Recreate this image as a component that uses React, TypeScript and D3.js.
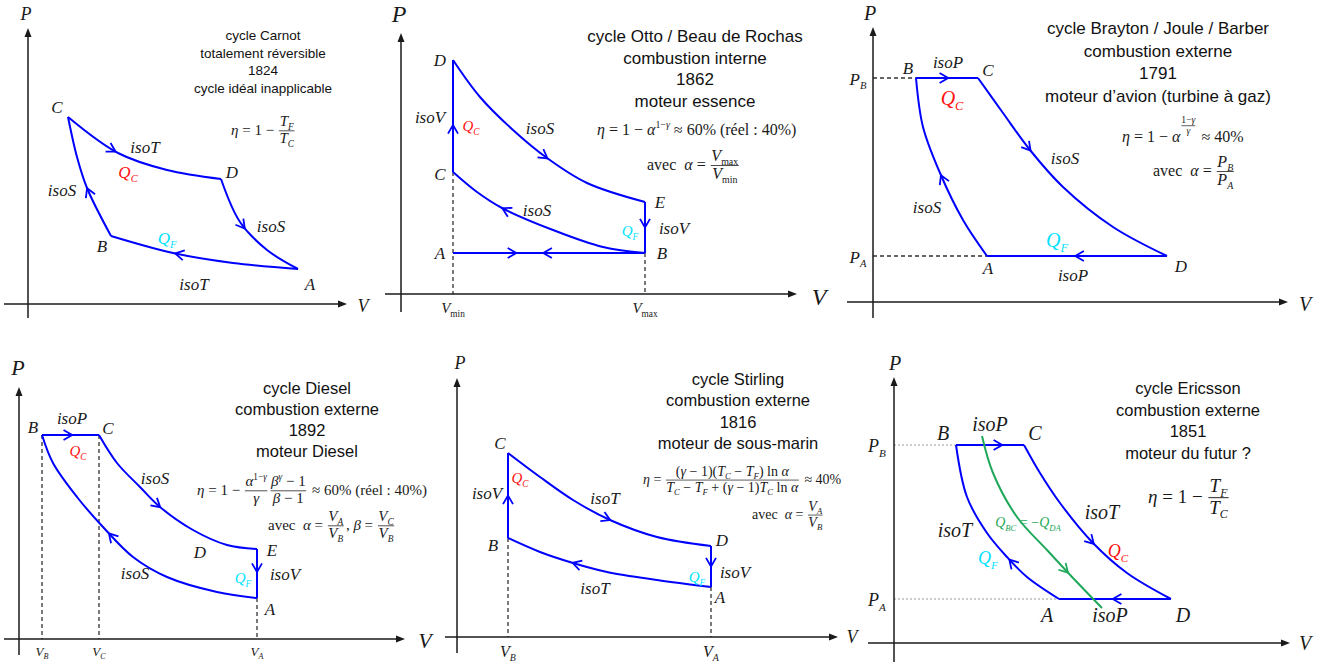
import React, { useEffect, useRef } from "react";
import * as d3 from "d3";

type Pt = [number, number];

const SANS = "'Liberation Sans', Arial, sans-serif";
const SERIF = "'Liberation Serif', 'Times New Roman', serif";
const BLUE = "#0000ff";
const RED = "#ff1010";
const CYAN = "#00e2ff";
const GREEN = "#1fa85a";
const INK = "#1a1a1a";

// ---- state points (V, P), 1 unit = 10px ----

// Carnot
const carnotCD: Pt[] = [[4.0, 18.7], [9.0, 15.1], [13.9, 13.4], [19.3, 12.5]];
const carnotDA: Pt[] = [[19.3, 12.5], [21.2, 8.2], [23.9, 5.4], [27.0, 3.5]];
const carnotAB: Pt[] = [[27.0, 3.5], [20.5, 4.1], [14.5, 5.1], [8.3, 6.8]];
const carnotBC: Pt[] = [[8.3, 6.8], [5.9, 11.6], [4.9, 14.7], [4.0, 18.7]];

// Otto / Beau de Rochas
const ottoAB: Pt[] = [[5.2, 4.1], [24.4, 4.1]];
const ottoBA: Pt[] = [[24.4, 4.1], [5.2, 4.1]];
const ottoCD: Pt[] = [[5.2, 12.2], [5.2, 23.4]];
const ottoDE: Pt[] = [[5.2, 23.4], [7.9, 19.7], [11.2, 16.4], [14.6, 13.6], [18.6, 11.1], [24.4, 9.2]];
const ottoEB: Pt[] = [[24.4, 9.2], [24.4, 4.1]];
const ottoBC: Pt[] = [[24.4, 4.1], [20.2, 4.7], [15.2, 6.4], [10.1, 8.6], [7.6, 10.2], [5.2, 12.2]];
const ottoGuides: Pt[][] = [[[5.2, 12.2], [5.2, 0]], [[24.4, 4.1], [24.4, 0]]];

// Brayton
const braytonBC: Pt[] = [[4.3, 22.4], [10.5, 22.4]];
const braytonCD: Pt[] = [[10.5, 22.4], [13.0, 18.9], [15.7, 15.2], [19.0, 11.5], [24.0, 7.5], [29.4, 4.6]];
const braytonDA: Pt[] = [[29.4, 4.6], [11.4, 4.6]];
const braytonAB: Pt[] = [[11.4, 4.6], [9.0, 8.2], [6.7, 12.9], [5.0, 17.5], [4.3, 22.4]];
const braytonGuides: Pt[][] = [[[0, 22.4], [4.3, 22.4]], [[0, 4.6], [11.4, 4.6]]];

// Diesel
const dieselBC: Pt[] = [[2.3, 20.4], [8.0, 20.4]];
const dieselCE: Pt[] = [[8.0, 20.4], [9.8, 17.6], [12.1, 15.2], [14.1, 13.2], [17.4, 10.9], [20.8, 9.4], [23.8, 9.0]];
const dieselEA: Pt[] = [[23.8, 9.0], [23.8, 4.1]];
const dieselAB: Pt[] = [[23.8, 4.1], [19.8, 4.7], [14.8, 6.2], [11.4, 8.2], [8.4, 11.2], [5.8, 14.2], [3.4, 17.6], [2.3, 20.4]];
const dieselGuides: Pt[][] = [[[2.3, 20.4], [2.3, 0]], [[8.0, 20.4], [8.0, 0]], [[23.8, 4.1], [23.8, 0]]];

// Stirling
const stirlingBC: Pt[] = [[5.1, 9.9], [5.1, 18.4]];
const stirlingCD: Pt[] = [[5.1, 18.4], [8.3, 16.0], [11.6, 13.7], [15.3, 11.7], [20.0, 10.0], [25.4, 9.1]];
const stirlingDA: Pt[] = [[25.4, 9.1], [25.4, 5.0]];
const stirlingAB: Pt[] = [[25.4, 5.0], [20.0, 5.7], [15.0, 6.5], [11.6, 7.4], [8.3, 8.5], [5.1, 9.9]];
const stirlingGuides: Pt[][] = [[[5.1, 9.9], [5.1, 0]], [[25.4, 5.0], [25.4, 0]]];

// Ericsson
const ericssonBC: Pt[] = [[6.2, 19.8], [13.0, 19.8]];
const ericssonCD: Pt[] = [[13.0, 19.8], [14.6, 17.0], [16.6, 14.0], [19.9, 10.0], [23.3, 7.0], [27.7, 4.4]];
const ericssonDA: Pt[] = [[27.7, 4.4], [16.5, 4.4]];
const ericssonAB: Pt[] = [[16.5, 4.4], [13.3, 6.6], [11.3, 8.6], [9.3, 11.0], [7.3, 14.6], [6.2, 19.8]];
const ericssonRegen: Pt[] = [[8.8, 20.7], [9.9, 17.0], [12.3, 12.6], [15.3, 9.3], [17.9, 6.5], [20.8, 3.5]];
const ericssonGuides: Pt[][] = [[[0, 19.8], [6.2, 19.8]], [[0, 4.4], [16.5, 4.4]]];

// ---- texts ----
const carnotTitle = ["cycle Carnot", "totalement réversible", "1824", "cycle idéal inapplicable"];
const ottoTitle = ["cycle Otto / Beau de Rochas", "combustion interne", "1862", "moteur essence"];
const braytonTitle = ["cycle Brayton / Joule / Barber", "combustion externe", "1791", "moteur d’avion (turbine à gaz)"];
const dieselTitle = ["cycle Diesel", "combustion externe", "1892", "moteur Diesel"];
const stirlingTitle = ["cycle Stirling", "combustion externe", "1816", "moteur de sous-marin"];
const ericssonTitle = ["cycle Ericsson", "combustion externe", "1851", "moteur du futur ?"];

type Item = string | { n: Item[]; d: Item[]; s?: number; dy?: number };
interface Curve { pts: Pt[]; arrows: number[]; color?: string }
interface Label { t: string; v: number; p: number; size: number; color?: string }
interface Formula { items: Item[]; v: number; p: number; size: number }
interface Panel {
  origin: Pt;
  vExt: Pt;
  pExt: Pt;
  curves: Curve[];
  guides: Pt[][];
  guideStyle: "dash" | "dot";
  labels: Label[];
  title: string[];
  titleAt: Pt;
  titleSize: number;
  titleStep: number;
  formulas: Formula[];
}

const panels: Panel[] = [
  {
    origin: [28, 304], vExt: [-2.4, 31.9], pExt: [-1.4, 27.6],
    curves: [
      { pts: carnotCD, arrows: [0.35] },
      { pts: carnotDA, arrows: [0.45] },
      { pts: carnotAB, arrows: [0.65] },
      { pts: carnotBC, arrows: [0.42] },
    ],
    guides: [], guideStyle: "dash",
    labels: [
      { t: "C", v: 2.9, p: 19.1, size: 17 },
      { t: "isoT", v: 11.7, p: 15.1, size: 17 },
      { t: "Q_{C}", v: 10.0, p: 12.6, size: 17, color: RED },
      { t: "D", v: 20.4, p: 12.6, size: 17 },
      { t: "isoS", v: 3.4, p: 10.8, size: 17 },
      { t: "isoS", v: 24.3, p: 7.2, size: 17 },
      { t: "Q_{F}", v: 13.9, p: 6.0, size: 17, color: CYAN },
      { t: "B", v: 7.4, p: 5.2, size: 17 },
      { t: "isoT", v: 16.6, p: 1.4, size: 17 },
      { t: "A", v: 28.2, p: 1.4, size: 17 },
      { t: "P", v: -0.2, p: 28.4, size: 18 },
      { t: "V", v: 33.5, p: -0.8, size: 18 },
    ],
    title: carnotTitle, titleAt: [23.5, 26.4], titleSize: 13.5, titleStep: 1.75,
    formulas: [{ items: ["η = 1 − ", { n: ["T_{F}"], d: ["T_{C}"] }], v: 20.3, p: 16.9, size: 15 }],
  },
  {
    origin: [401, 294], vExt: [-1.6, 39.6], pExt: [-1.8, 26.1],
    curves: [
      { pts: ottoAB, arrows: [0.33] },
      { pts: ottoBA, arrows: [0.53] },
      { pts: ottoCD, arrows: [0.42] },
      { pts: ottoDE, arrows: [0.56] },
      { pts: ottoEB, arrows: [0.5] },
      { pts: ottoBC, arrows: [0.71] },
    ],
    guides: ottoGuides, guideStyle: "dash",
    labels: [
      { t: "D", v: 3.9, p: 22.8, size: 17 },
      { t: "C", v: 3.9, p: 11.4, size: 17 },
      { t: "A", v: 3.9, p: 3.5, size: 17 },
      { t: "E", v: 25.9, p: 8.6, size: 17 },
      { t: "B", v: 26.1, p: 3.5, size: 17 },
      { t: "isoV", v: 2.9, p: 17.1, size: 17 },
      { t: "Q_{C}", v: 7.0, p: 16.3, size: 15, color: RED },
      { t: "isoS", v: 13.9, p: 16.0, size: 17 },
      { t: "isoS", v: 13.6, p: 7.8, size: 17 },
      { t: "Q_{F}", v: 22.9, p: 5.8, size: 15, color: CYAN },
      { t: "isoV", v: 27.3, p: 6.0, size: 17 },
      { t: "P", v: -0.2, p: 27.2, size: 24 },
      { t: "V", v: 41.8, p: -1.1, size: 24 },
      { t: "V_{`min`}", v: 5.2, p: -1.9, size: 15 },
      { t: "V_{`max`}", v: 24.4, p: -1.9, size: 15 },
    ],
    title: ottoTitle, titleAt: [29.4, 25.2], titleSize: 17, titleStep: 2.17,
    formulas: [
      { items: ["η = 1 − α^{1−γ} ≈ 60% (`réel` : 40%)"], v: 19.6, p: 15.9, size: 16 },
      { items: ["`avec`  α = ", { n: ["V_{`max`}"], d: ["V_{`min`}"] }], v: 24.6, p: 12.4, size: 16 },
    ],
  },
  {
    origin: [873, 302], vExt: [-2.6, 41.5], pExt: [-1.6, 27.5],
    curves: [
      { pts: braytonBC, arrows: [0.52] },
      { pts: braytonCD, arrows: [0.34] },
      { pts: braytonDA, arrows: [0.51] },
      { pts: braytonAB, arrows: [0.48] },
    ],
    guides: braytonGuides, guideStyle: "dash",
    labels: [
      { t: "B", v: 3.5, p: 22.8, size: 17 },
      { t: "isoP", v: 7.5, p: 23.4, size: 17 },
      { t: "C", v: 11.5, p: 22.6, size: 17 },
      { t: "Q_{C}", v: 7.9, p: 19.7, size: 20, color: RED },
      { t: "isoS", v: 19.2, p: 13.8, size: 17 },
      { t: "isoS", v: 5.4, p: 8.9, size: 17 },
      { t: "Q_{F}", v: 18.4, p: 5.5, size: 20, color: CYAN },
      { t: "A", v: 11.5, p: 2.8, size: 17 },
      { t: "isoP", v: 20.0, p: 2.1, size: 17 },
      { t: "D", v: 30.8, p: 3.0, size: 17 },
      { t: "P_{B}", v: -1.5, p: 21.7, size: 17 },
      { t: "P_{A}", v: -1.5, p: 3.9, size: 17 },
      { t: "P", v: -0.3, p: 28.2, size: 20 },
      { t: "V", v: 43.2, p: -0.9, size: 20 },
    ],
    title: braytonTitle, titleAt: [28.5, 26.8], titleSize: 17, titleStep: 2.27,
    formulas: [
      { items: ["η = 1 − α", { n: ["1−γ"], d: ["γ"], s: 0.6, dy: -0.85 }, " ≈ 40%"], v: 24.9, p: 16.0, size: 16 },
      { items: ["`avec`  α = ", { n: ["P_{B}"], d: ["P_{A}"] }], v: 28.0, p: 12.6, size: 16 },
    ],
  },
  {
    origin: [19, 639], vExt: [-1.5, 38.6], pExt: [-1.6, 25.2],
    curves: [
      { pts: dieselBC, arrows: [0.53] },
      { pts: dieselCE, arrows: [0.47] },
      { pts: dieselEA, arrows: [0.47] },
      { pts: dieselAB, arrows: [0.58] },
    ],
    guides: dieselGuides, guideStyle: "dash",
    labels: [
      { t: "B", v: 1.4, p: 20.6, size: 17 },
      { t: "isoP", v: 5.3, p: 21.5, size: 17 },
      { t: "C", v: 8.9, p: 20.5, size: 17 },
      { t: "Q_{C}", v: 5.9, p: 18.3, size: 15, color: RED },
      { t: "isoS", v: 13.6, p: 15.5, size: 17 },
      { t: "D", v: 18.1, p: 8.1, size: 17 },
      { t: "E", v: 25.3, p: 8.3, size: 17 },
      { t: "isoS", v: 11.6, p: 6.0, size: 17 },
      { t: "Q_{F}", v: 22.4, p: 5.6, size: 15, color: CYAN },
      { t: "isoV", v: 26.6, p: 5.9, size: 17 },
      { t: "A", v: 25.1, p: 2.4, size: 17 },
      { t: "P", v: -0.1, p: 26.4, size: 22 },
      { t: "V", v: 40.6, p: -0.9, size: 22 },
      { t: "V_{B}", v: 2.3, p: -1.7, size: 13 },
      { t: "V_{C}", v: 8.0, p: -1.7, size: 13 },
      { t: "V_{A}", v: 23.8, p: -1.7, size: 13 },
    ],
    title: dieselTitle, titleAt: [28.8, 24.5], titleSize: 16.5, titleStep: 2.1,
    formulas: [
      {
        items: ["η = 1 − ", { n: ["α^{1−γ}"], d: ["γ"] }, { n: ["β^{γ} − 1"], d: ["β − 1"] }, " ≈ 60% (`réel` : 40%)"],
        v: 17.8, p: 14.4, size: 15,
      },
      { items: ["`avec`  α = ", { n: ["V_{A}"], d: ["V_{B}"] }, ", β = ", { n: ["V_{C}"], d: ["V_{B}"] }], v: 24.9, p: 10.9, size: 15 },
    ],
  },
  {
    origin: [457, 637], vExt: [-1.2, 38.1], pExt: [-1.6, 25.9],
    curves: [
      { pts: stirlingBC, arrows: [0.5] },
      { pts: stirlingCD, arrows: [0.54] },
      { pts: stirlingDA, arrows: [0.5] },
      { pts: stirlingAB, arrows: [0.67] },
    ],
    guides: stirlingGuides, guideStyle: "dash",
    labels: [
      { t: "C", v: 4.3, p: 18.8, size: 17 },
      { t: "Q_{C}", v: 6.3, p: 15.4, size: 15, color: RED },
      { t: "isoV", v: 3.0, p: 13.8, size: 17 },
      { t: "isoT", v: 14.8, p: 13.3, size: 17 },
      { t: "B", v: 3.6, p: 8.6, size: 17 },
      { t: "D", v: 26.5, p: 9.1, size: 17 },
      { t: "Q_{F}", v: 24.0, p: 5.5, size: 15, color: CYAN },
      { t: "isoV", v: 27.8, p: 5.9, size: 17 },
      { t: "isoT", v: 13.8, p: 4.3, size: 17 },
      { t: "A", v: 26.3, p: 3.4, size: 17 },
      { t: "P", v: 0.3, p: 26.8, size: 18 },
      { t: "V", v: 39.5, p: -0.6, size: 18 },
      { t: "V_{B}", v: 5.1, p: -2.0, size: 16 },
      { t: "V_{A}", v: 25.4, p: -2.0, size: 16 },
    ],
    title: stirlingTitle, titleAt: [28.1, 25.2], titleSize: 16.5, titleStep: 2.13,
    formulas: [
      {
        items: ["η = ", { n: ["(γ − 1)(T_{C} − T_{F}) `ln` α"], d: ["T_{C} − T_{F} + (γ − 1)T_{C} `ln` α"] }, " ≈ 40%"],
        v: 18.6, p: 15.3, size: 14,
      },
      { items: ["`avec`  α = ", { n: ["V_{A}"], d: ["V_{B}"] }], v: 29.5, p: 11.8, size: 14 },
    ],
  },
  {
    origin: [894, 643], vExt: [-2.6, 39.6], pExt: [-1.9, 26.6],
    curves: [
      { pts: ericssonBC, arrows: [0.68] },
      { pts: ericssonCD, arrows: [0.56] },
      { pts: ericssonDA, arrows: [0.52] },
      { pts: ericssonAB, arrows: [0.33] },
      { pts: ericssonRegen, arrows: [0.77], color: GREEN },
    ],
    guides: ericssonGuides, guideStyle: "dot",
    labels: [
      { t: "B", v: 4.9, p: 20.3, size: 20 },
      { t: "isoP", v: 9.6, p: 21.2, size: 20 },
      { t: "C", v: 14.1, p: 20.3, size: 20 },
      { t: "Q_{BC} = −Q_{DA}", v: 13.4, p: 11.6, size: 14, color: GREEN },
      { t: "isoT", v: 20.8, p: 12.4, size: 20 },
      { t: "isoT", v: 6.1, p: 10.6, size: 20 },
      { t: "Q_{C}", v: 22.4, p: 8.6, size: 18, color: RED },
      { t: "Q_{F}", v: 9.4, p: 7.9, size: 18, color: CYAN },
      { t: "A", v: 15.3, p: 2.1, size: 20 },
      { t: "isoP", v: 21.6, p: 2.1, size: 20 },
      { t: "D", v: 28.9, p: 2.1, size: 20 },
      { t: "P_{B}", v: -1.7, p: 19.1, size: 18 },
      { t: "P_{A}", v: -1.7, p: 3.7, size: 18 },
      { t: "P", v: 0.1, p: 27.3, size: 20 },
      { t: "V", v: 41.1, p: -0.7, size: 20 },
    ],
    title: ericssonTitle, titleAt: [29.4, 24.9], titleSize: 16.5, titleStep: 2.17,
    formulas: [{ items: ["η = 1 − ", { n: ["T_{F}"], d: ["T_{C}"] }], v: 25.4, p: 14.0, size: 19 }],
  },
];

// split "Q_{C}" style markup into runs; letters italic unless inside backticks
function parse(s: string, mode: string) {
  const out: { text: string; it: boolean; lvl: number }[] = [];
  const stack = [0];
  let up = false;
  for (let i = 0; i < s.length; i++) {
    const ch = s[i];
    if (ch === "`") { up = !up; continue; }
    if ((ch === "_" || ch === "^") && s[i + 1] === "{") { stack.push(ch === "_" ? -1 : 1); i++; continue; }
    if (ch === "}" && stack.length > 1) { stack.pop(); continue; }
    const lvl = stack[stack.length - 1];
    const it = mode === "math" && !up && /[A-Za-zα-ω]/.test(ch);
    const last = out[out.length - 1];
    if (last && last.it === it && last.lvl === lvl) last.text += ch;
    else out.push({ text: ch, it, lvl });
  }
  return out;
}

function rich(g: any, x: number, y: number, s: string, size: number, color: string, anchor = "middle", family = SERIF, mode = "math") {
  const t = g.append("text")
    .attr("x", x).attr("y", y)
    .attr("font-size", size).attr("font-family", family)
    .attr("fill", color).attr("text-anchor", anchor)
    .style("white-space", "pre");
  let shift = 0;
  parse(s, mode).forEach((seg) => {
    const target = seg.lvl < 0 ? size * 0.25 : seg.lvl > 0 ? -size * 0.42 : 0;
    const ts = t.append("tspan")
      .attr("dy", target - shift)
      .attr("font-size", seg.lvl ? size * 0.62 : size)
      .text(seg.text);
    if (seg.it) ts.attr("font-style", "italic");
    shift = target;
  });
  return t;
}

// lays formula items left to right, returns the width used
function layout(g: any, items: Item[], x: number, y: number, size: number): number {
  let cx = x;
  items.forEach((it) => {
    if (typeof it === "string") {
      const t = rich(g, cx, y, it, size, INK, "start");
      cx += (t.node() as SVGTextElement).getComputedTextLength();
    } else {
      const s = size * (it.s ?? 1);
      const yy = y + (it.dy ?? 0) * size;
      const gn = g.append("g");
      const gd = g.append("g");
      const wn = layout(gn, it.n, 0, 0, s);
      const wd = layout(gd, it.d, 0, 0, s);
      const w = Math.max(wn, wd) + s * 0.2;
      const ly = yy - s * 0.28;
      gn.attr("transform", `translate(${cx + (w - wn) / 2},${ly - s * 0.3})`);
      gd.attr("transform", `translate(${cx + (w - wd) / 2},${ly + s * 0.84})`);
      g.append("line")
        .attr("x1", cx + 1).attr("x2", cx + w - 1)
        .attr("y1", ly).attr("y2", ly)
        .attr("stroke", INK).attr("stroke-width", Math.max(0.7, s * 0.05));
      cx += w + size * 0.08;
    }
  });
  return cx - x;
}

function drawPanel(svg: any, cfg: Panel) {
  const [ox, oy] = cfg.origin;
  const x = d3.scaleLinear().domain([0, 10]).range([ox, ox + 100]);
  const y = d3.scaleLinear().domain([0, 10]).range([oy, oy - 100]);
  const g = svg.append("g");

  // guide lines to the axes
  cfg.guides.forEach((seg) => {
    g.append("line")
      .attr("x1", x(seg[0][0])).attr("y1", y(seg[0][1]))
      .attr("x2", x(seg[1][0])).attr("y2", y(seg[1][1]))
      .attr("stroke", cfg.guideStyle === "dot" ? "#9a9a9a" : "#333")
      .attr("stroke-width", cfg.guideStyle === "dot" ? 1 : 1.3)
      .attr("stroke-dasharray", cfg.guideStyle === "dot" ? "2,2" : "4,3");
  });

  // axes
  const head = 9;
  const xEnd = x(cfg.vExt[1]);
  const yEnd = y(cfg.pExt[1]);
  g.append("line").attr("x1", x(cfg.vExt[0])).attr("x2", xEnd - head + 1)
    .attr("y1", y(0)).attr("y2", y(0)).attr("stroke", INK).attr("stroke-width", 1.5);
  g.append("line").attr("x1", x(0)).attr("x2", x(0))
    .attr("y1", y(cfg.pExt[0])).attr("y2", yEnd + head - 1).attr("stroke", INK).attr("stroke-width", 1.5);
  g.append("path").attr("fill", INK)
    .attr("d", `M${xEnd},${y(0)} L${xEnd - head},${y(0) - 3.5} L${xEnd - head},${y(0) + 3.5} Z`);
  g.append("path").attr("fill", INK)
    .attr("d", `M${x(0)},${yEnd} L${x(0) - 3.5},${yEnd + head} L${x(0) + 3.5},${yEnd + head} Z`);

  // cycle branches with their direction arrows
  const line = d3.line<Pt>().x((d) => x(d[0])).y((d) => y(d[1])).curve(d3.curveCatmullRom.alpha(0.5));
  cfg.curves.forEach((c) => {
    const color = c.color ?? BLUE;
    const path = g.append("path")
      .attr("d", line(c.pts)).attr("fill", "none")
      .attr("stroke", color).attr("stroke-width", 2);
    const node = path.node() as SVGPathElement;
    const L = node.getTotalLength();
    c.arrows.forEach((t) => {
      const p1 = node.getPointAtLength(t * L);
      const p0 = node.getPointAtLength(Math.max(0, t * L - 2));
      const ang = Math.atan2(p1.y - p0.y, p1.x - p0.x);
      const a = 10, h = Math.PI / 6;
      const d = `M${p1.x - a * Math.cos(ang - h)},${p1.y - a * Math.sin(ang - h)} L${p1.x},${p1.y} L${p1.x - a * Math.cos(ang + h)},${p1.y - a * Math.sin(ang + h)}`;
      g.append("path").attr("d", d).attr("fill", "none")
        .attr("stroke", color).attr("stroke-width", 1.8);
    });
  });

  cfg.labels.forEach((l) => rich(g, x(l.v), y(l.p), l.t, l.size, l.color ?? INK));

  cfg.title.forEach((s, i) =>
    rich(g, x(cfg.titleAt[0]), y(cfg.titleAt[1] - i * cfg.titleStep), s, cfg.titleSize, "#111", "middle", SANS, "plain")
  );

  cfg.formulas.forEach((f) => {
    const fg = g.append("g");
    layout(fg, f.items, x(f.v), y(f.p), f.size);
  });
}

export default function App() {
  const ref = useRef<SVGSVGElement>(null);

  useEffect(() => {
    const svg = d3.select(ref.current);
    svg.selectAll("*").remove();
    panels.forEach((p) => drawPanel(svg, p));
  }, []);

  return (
    <svg
      ref={ref}
      width={1323}
      height={664}
      style={{ position: "absolute", left: 0, top: 0, background: "#fff" }}
    />
  );
}
